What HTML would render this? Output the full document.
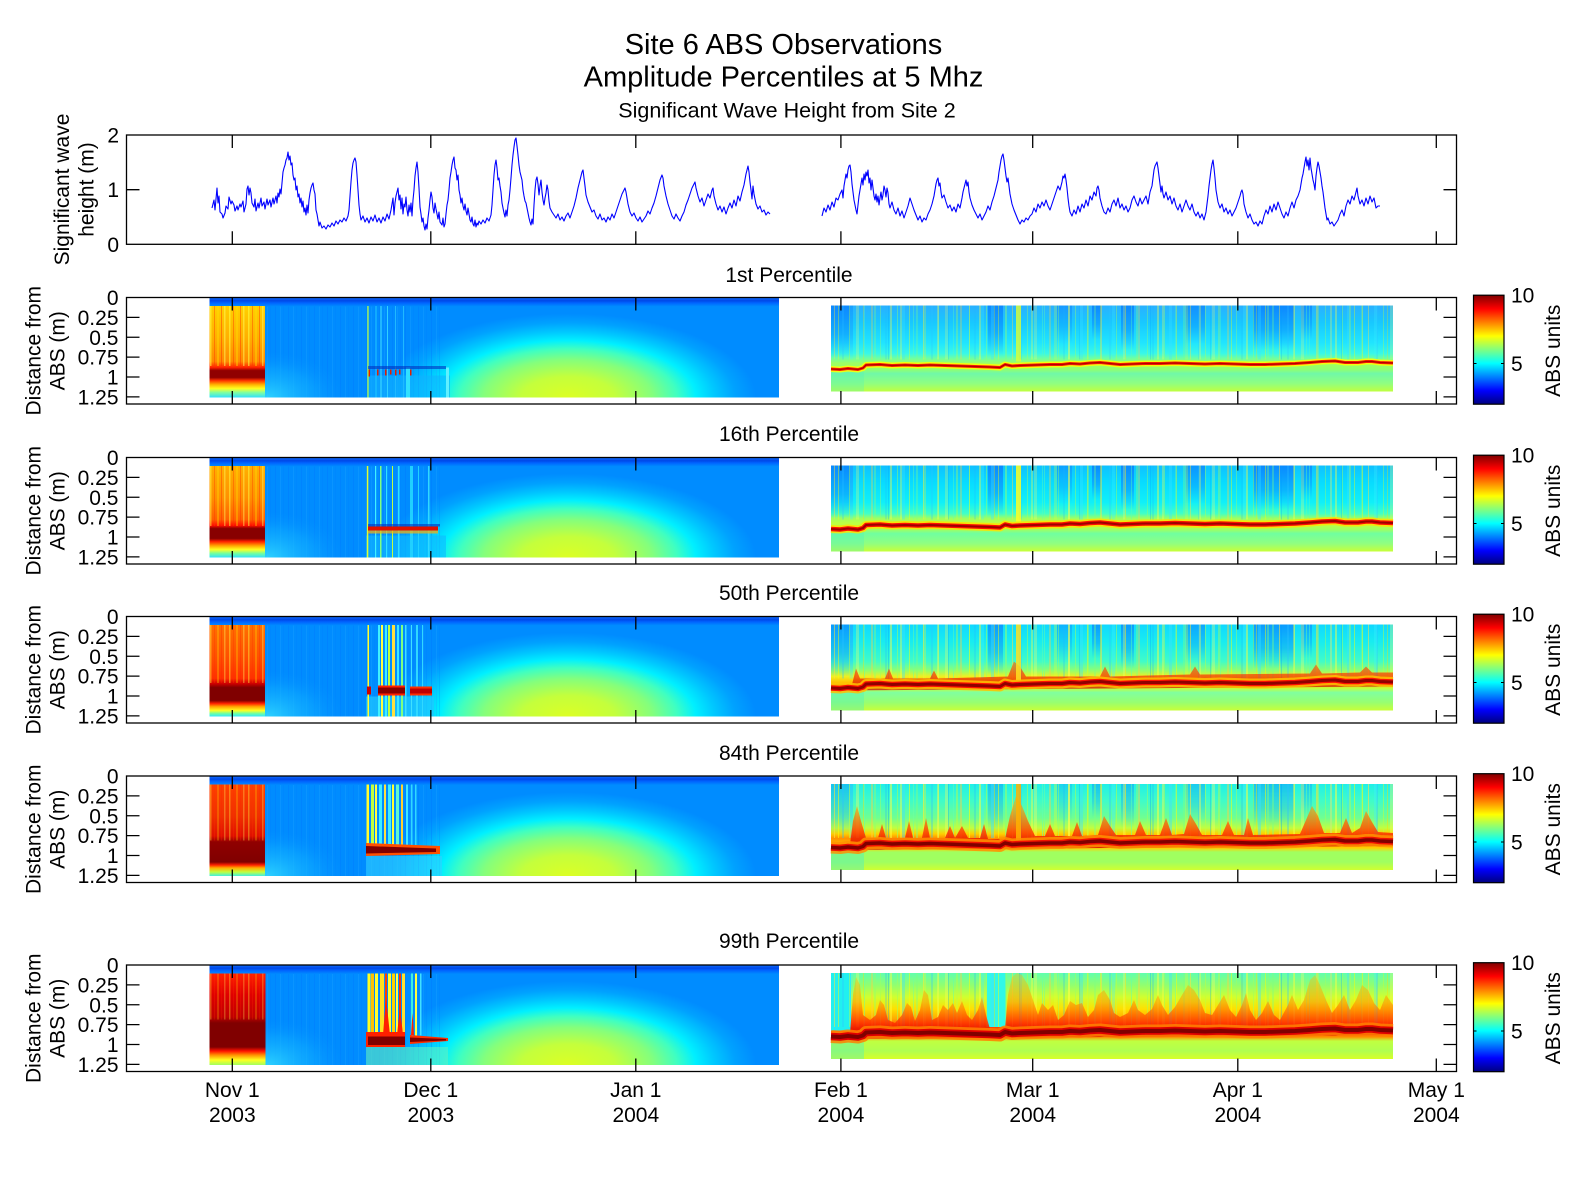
<!DOCTYPE html>
<html>
<head>
<meta charset="utf-8">
<style>
html,body{margin:0;padding:0;background:#fff;}
svg{display:block;}
text{font-family:"Liberation Sans",Arial,sans-serif;fill:#000;}
</style>
</head>
<body>
<svg width="1575" height="1200" viewBox="0 0 1575 1200" xmlns="http://www.w3.org/2000/svg">
<defs>
  <linearGradient id="jet" x1="0" y1="0" x2="0" y2="1">
    <stop offset="0" stop-color="#800000"/>
    <stop offset="0.125" stop-color="#ff0000"/>
    <stop offset="0.25" stop-color="#ff8000"/>
    <stop offset="0.375" stop-color="#ffff00"/>
    <stop offset="0.5" stop-color="#80ff80"/>
    <stop offset="0.625" stop-color="#00ffff"/>
    <stop offset="0.75" stop-color="#0080ff"/>
    <stop offset="0.875" stop-color="#0000ff"/>
    <stop offset="1" stop-color="#000080"/>
  </linearGradient>
  <radialGradient id="dome" gradientUnits="userSpaceOnUse" cx="0" cy="0" r="1" gradientTransform="translate(568,100) scale(188,84)">
    <stop offset="0" stop-color="#dcff24"/>
    <stop offset="0.25" stop-color="#c4ff3c"/>
    <stop offset="0.45" stop-color="#84ff7c"/>
    <stop offset="0.58" stop-color="#40ffc0"/>
    <stop offset="0.68" stop-color="#00f0ff"/>
    <stop offset="0.78" stop-color="#00c8ff"/>
    <stop offset="0.89" stop-color="#00a2ff"/>
    <stop offset="1" stop-color="#008cff"/>
  </radialGradient>
  <radialGradient id="lglow" gradientUnits="userSpaceOnUse" cx="0" cy="0" r="1" gradientTransform="translate(268,100) scale(80,48)">
    <stop offset="0" stop-color="#30d8ff" stop-opacity="0.9"/>
    <stop offset="0.6" stop-color="#10b0ff" stop-opacity="0.5"/>
    <stop offset="1" stop-color="#008cff" stop-opacity="0"/>
  </radialGradient>
  <linearGradient id="topS" gradientUnits="userSpaceOnUse" x1="0" y1="0" x2="0" y2="9">
    <stop offset="0" stop-color="#1070ff"/>
    <stop offset="0.35" stop-color="#0048e8"/>
    <stop offset="0.6" stop-color="#0064ff"/>
    <stop offset="1" stop-color="#008cff"/>
  </linearGradient>
  <linearGradient id="b1p1" gradientUnits="userSpaceOnUse" x1="0" y1="0" x2="0" y2="100">
    <stop offset="0.085" stop-color="#ffd000"/><stop offset="0.4" stop-color="#ffb000"/><stop offset="0.64" stop-color="#ff8a00"/>
    <stop offset="0.70" stop-color="#ff2000"/><stop offset="0.73" stop-color="#900000"/><stop offset="0.80" stop-color="#900000"/>
    <stop offset="0.83" stop-color="#ff3000"/><stop offset="0.87" stop-color="#ffb000"/><stop offset="0.91" stop-color="#ffff20"/>
    <stop offset="0.95" stop-color="#80ffa0"/><stop offset="1" stop-color="#30e0ff"/>
  </linearGradient>
  <linearGradient id="b1p2" gradientUnits="userSpaceOnUse" x1="0" y1="0" x2="0" y2="100">
    <stop offset="0.085" stop-color="#ffb000"/><stop offset="0.4" stop-color="#ff9000"/><stop offset="0.62" stop-color="#ff6000"/>
    <stop offset="0.68" stop-color="#ff1000"/><stop offset="0.71" stop-color="#880000"/><stop offset="0.81" stop-color="#880000"/>
    <stop offset="0.84" stop-color="#ff2000"/><stop offset="0.88" stop-color="#ffa000"/><stop offset="0.92" stop-color="#ffff20"/>
    <stop offset="0.96" stop-color="#70ffa0"/><stop offset="1" stop-color="#30e0ff"/>
  </linearGradient>
  <linearGradient id="b1p3" gradientUnits="userSpaceOnUse" x1="0" y1="0" x2="0" y2="100">
    <stop offset="0.085" stop-color="#ff7000"/><stop offset="0.4" stop-color="#ff5000"/><stop offset="0.62" stop-color="#ff3000"/>
    <stop offset="0.67" stop-color="#d00000"/><stop offset="0.71" stop-color="#800000"/><stop offset="0.84" stop-color="#800000"/>
    <stop offset="0.87" stop-color="#ff2000"/><stop offset="0.90" stop-color="#ffa000"/><stop offset="0.94" stop-color="#ffff20"/>
    <stop offset="0.97" stop-color="#70ffa0"/><stop offset="1" stop-color="#30e8ff"/>
  </linearGradient>
  <linearGradient id="b1p4" gradientUnits="userSpaceOnUse" x1="0" y1="0" x2="0" y2="100">
    <stop offset="0.085" stop-color="#ff4000"/><stop offset="0.4" stop-color="#f03000"/><stop offset="0.60" stop-color="#e01000"/>
    <stop offset="0.66" stop-color="#900000"/><stop offset="0.86" stop-color="#800000"/><stop offset="0.89" stop-color="#ff2000"/>
    <stop offset="0.92" stop-color="#ffb000"/><stop offset="0.96" stop-color="#c0ff40"/><stop offset="1" stop-color="#40f0e0"/>
  </linearGradient>
  <linearGradient id="b1p5" gradientUnits="userSpaceOnUse" x1="0" y1="0" x2="0" y2="100">
    <stop offset="0.085" stop-color="#ff2000"/><stop offset="0.3" stop-color="#e00000"/><stop offset="0.52" stop-color="#c00000"/>
    <stop offset="0.58" stop-color="#800000"/><stop offset="0.82" stop-color="#800000"/><stop offset="0.86" stop-color="#ff1000"/>
    <stop offset="0.90" stop-color="#ff9000"/><stop offset="0.95" stop-color="#ffff20"/><stop offset="1" stop-color="#a0ff60"/>
  </linearGradient>
  <linearGradient id="s2p1" gradientUnits="userSpaceOnUse" x1="0" y1="8" x2="0" y2="94">
    <stop offset="0" stop-color="#2ab0ff"/><stop offset="0.198" stop-color="#18c8ff"/><stop offset="0.43" stop-color="#20e4ff"/>
    <stop offset="0.558" stop-color="#38f8e8"/><stop offset="0.616" stop-color="#70ffa0"/><stop offset="0.674" stop-color="#a0ff60"/>
    <stop offset="0.744" stop-color="#90ff70"/><stop offset="0.791" stop-color="#70f8a8"/><stop offset="0.907" stop-color="#90ff80"/>
    <stop offset="1" stop-color="#c0ff40"/>
  </linearGradient>
  <linearGradient id="s2p2" gradientUnits="userSpaceOnUse" x1="0" y1="8" x2="0" y2="94">
    <stop offset="0" stop-color="#10c0ff"/><stop offset="0.198" stop-color="#08dcff"/><stop offset="0.43" stop-color="#10f0f8"/>
    <stop offset="0.558" stop-color="#40ffc8"/><stop offset="0.616" stop-color="#a0ff60"/><stop offset="0.674" stop-color="#c0ff40"/>
    <stop offset="0.744" stop-color="#a0ff60"/><stop offset="0.791" stop-color="#70ffa0"/><stop offset="0.907" stop-color="#90ff80"/>
    <stop offset="1" stop-color="#c8ff38"/>
  </linearGradient>
  <linearGradient id="s2p3" gradientUnits="userSpaceOnUse" x1="0" y1="8" x2="0" y2="94">
    <stop offset="0" stop-color="#10d8ff"/><stop offset="0.198" stop-color="#18ecf0"/><stop offset="0.43" stop-color="#40fcc8"/>
    <stop offset="0.535" stop-color="#90ff70"/><stop offset="0.605" stop-color="#f0f020"/><stop offset="0.674" stop-color="#ffc000"/>
    <stop offset="0.744" stop-color="#c0ff40"/><stop offset="0.791" stop-color="#80ffa0"/><stop offset="0.907" stop-color="#98ff70"/>
    <stop offset="1" stop-color="#c8ff38"/>
  </linearGradient>
  <linearGradient id="s2p4" gradientUnits="userSpaceOnUse" x1="0" y1="8" x2="0" y2="94">
    <stop offset="0" stop-color="#20f0e8"/><stop offset="0.198" stop-color="#40fcc8"/><stop offset="0.395" stop-color="#70ff90"/>
    <stop offset="0.512" stop-color="#c0ff40"/><stop offset="0.58" stop-color="#ffd000"/><stop offset="0.63" stop-color="#ff9000"/>
    <stop offset="0.744" stop-color="#ffd000"/><stop offset="0.791" stop-color="#a0ff60"/><stop offset="0.907" stop-color="#a0ff60"/>
    <stop offset="1" stop-color="#d0ff30"/>
  </linearGradient>
  <linearGradient id="s2p5" gradientUnits="userSpaceOnUse" x1="0" y1="8" x2="0" y2="94">
    <stop offset="0" stop-color="#60ffb0"/><stop offset="0.14" stop-color="#90ff70"/><stop offset="0.28" stop-color="#d0ff30"/>
    <stop offset="0.42" stop-color="#ffe000"/><stop offset="0.535" stop-color="#ffa800"/><stop offset="0.605" stop-color="#ff6000"/>
    <stop offset="0.651" stop-color="#ff3000"/><stop offset="0.744" stop-color="#ff9000"/><stop offset="0.791" stop-color="#c0ff40"/>
    <stop offset="0.907" stop-color="#b0ff50"/><stop offset="1" stop-color="#d8ff28"/>
  </linearGradient>
  <linearGradient id="blotG" x1="0" y1="0" x2="0" y2="1">
    <stop offset="0" stop-color="#0a84ff" stop-opacity="0.9"/>
    <stop offset="0.55" stop-color="#0a94ff" stop-opacity="0.6"/>
    <stop offset="1" stop-color="#10a0ff" stop-opacity="0"/>
  </linearGradient>
  <linearGradient id="plumeG" gradientUnits="userSpaceOnUse" x1="0" y1="8" x2="0" y2="72">
    <stop offset="0" stop-color="#ffd000" stop-opacity="0.5"/>
    <stop offset="0.4" stop-color="#ff9000" stop-opacity="0.75"/>
    <stop offset="0.75" stop-color="#ff3000" stop-opacity="0.95"/>
    <stop offset="1" stop-color="#d00000" stop-opacity="1"/>
  </linearGradient>
  <linearGradient id="plume5" gradientUnits="userSpaceOnUse" x1="0" y1="8" x2="0" y2="72">
    <stop offset="0" stop-color="#ffc000" stop-opacity="0.35"/>
    <stop offset="0.45" stop-color="#ff9000" stop-opacity="0.55"/>
    <stop offset="0.78" stop-color="#ff3000" stop-opacity="0.85"/>
    <stop offset="1" stop-color="#d00000" stop-opacity="1"/>
  </linearGradient>
  <pattern id="stA" patternUnits="userSpaceOnUse" width="89" height="200">
    <rect x="0" y="0" width="2" height="200" fill="#ffff40" fill-opacity="0.6"/>
    <rect x="7" y="0" width="1" height="200" fill="#a0ff60" fill-opacity="0.7"/>
    <rect x="12" y="0" width="3" height="200" fill="#40e0ff" fill-opacity="0.5"/>
    <rect x="19" y="0" width="1" height="200" fill="#ffff00" fill-opacity="0.6"/>
    <rect x="26" y="0" width="2" height="200" fill="#80ff80" fill-opacity="0.5"/>
    <rect x="33" y="0" width="1" height="200" fill="#ffe040" fill-opacity="0.7"/>
    <rect x="41" y="0" width="2" height="200" fill="#30c0ff" fill-opacity="0.4"/>
    <rect x="48" y="0" width="1" height="200" fill="#c0ff40" fill-opacity="0.6"/>
    <rect x="55" y="0" width="3" height="200" fill="#ffff60" fill-opacity="0.4"/>
    <rect x="63" y="0" width="1" height="200" fill="#60ffb0" fill-opacity="0.6"/>
    <rect x="70" y="0" width="2" height="200" fill="#ffd040" fill-opacity="0.5"/>
    <rect x="79" y="0" width="1" height="200" fill="#a0ff60" fill-opacity="0.6"/>
    <rect x="84" y="0" width="2" height="200" fill="#20b0ff" fill-opacity="0.3"/>
  </pattern>
  <pattern id="stB" patternUnits="userSpaceOnUse" x="17" width="131" height="200">
    <rect x="3" y="0" width="2" height="200" fill="#ffff50" fill-opacity="0.5"/>
    <rect x="14" y="0" width="1" height="200" fill="#00a0ff" fill-opacity="0.35"/>
    <rect x="22" y="0" width="2" height="200" fill="#c0ff40" fill-opacity="0.5"/>
    <rect x="35" y="0" width="1" height="200" fill="#ffff00" fill-opacity="0.6"/>
    <rect x="47" y="0" width="3" height="200" fill="#40f0ff" fill-opacity="0.4"/>
    <rect x="60" y="0" width="1" height="200" fill="#ffe000" fill-opacity="0.5"/>
    <rect x="71" y="0" width="2" height="200" fill="#90ff70" fill-opacity="0.5"/>
    <rect x="85" y="0" width="1" height="200" fill="#0098ff" fill-opacity="0.4"/>
    <rect x="97" y="0" width="2" height="200" fill="#ffff40" fill-opacity="0.5"/>
    <rect x="110" y="0" width="1" height="200" fill="#70ffa0" fill-opacity="0.6"/>
    <rect x="120" y="0" width="3" height="200" fill="#e0ff30" fill-opacity="0.4"/>
  </pattern>
  <pattern id="stY" patternUnits="userSpaceOnUse" width="19" height="200">
    <rect x="1" y="0" width="1.5" height="200" fill="#ffff40" fill-opacity="0.7"/>
    <rect x="5" y="0" width="1" height="200" fill="#ff3000" fill-opacity="0.5"/>
    <rect x="8" y="0" width="2" height="200" fill="#ffe000" fill-opacity="0.5"/>
    <rect x="12" y="0" width="1" height="200" fill="#ff2000" fill-opacity="0.5"/>
    <rect x="15" y="0" width="1.5" height="200" fill="#ffff60" fill-opacity="0.6"/>
  </pattern>
  <pattern id="stBl" patternUnits="userSpaceOnUse" width="13" height="200">
    <rect x="2" y="0" width="1" height="200" fill="#0070ff" fill-opacity="0.3"/>
    <rect x="7" y="0" width="1" height="200" fill="#20a8ff" fill-opacity="0.3"/>
    <rect x="10" y="0" width="1" height="200" fill="#0078ff" fill-opacity="0.2"/>
  </pattern>
  <path id="band" fill="none" stroke-linejoin="round" d="M831,71.5 L840,72 L848,71 L858,72 L863,70.5 L866,67.5 L880,67 L892,68 L905,67.5 L918,68 L930,67.5 L945,68 L960,68.5 L975,69 L990,69.5 L1000,70 L1005,67 L1012,68.5 L1020,68 L1035,67.5 L1050,67 L1062,67 L1070,66 L1080,66.5 L1090,65.5 L1100,65 L1110,66 L1120,67 L1132,66.5 L1145,66 L1160,66 L1175,65.5 L1190,66 L1205,66.5 L1220,66 L1235,66.5 L1250,67 L1265,67 L1280,66.5 L1295,66 L1310,65 L1322,64 L1335,63.5 L1345,65 L1358,65 L1366,64 L1372,64 L1380,65 L1393,65.5"/>
  <g id="blots">
    <rect x="831" y="8" width="22" height="52" fill="url(#blotG)"/>
    <rect x="988" y="8" width="15" height="50" fill="url(#blotG)"/>
    <rect x="1057" y="8" width="15" height="38" fill="url(#blotG)" opacity="0.6"/>
    <rect x="1092" y="8" width="9" height="34" fill="url(#blotG)"/>
    <rect x="1121" y="8" width="13" height="44" fill="url(#blotG)"/>
    <rect x="1186" y="8" width="19" height="38" fill="url(#blotG)" opacity="0.8"/>
    <rect x="1253" y="8" width="41" height="44" fill="url(#blotG)"/>
    <rect x="1301" y="8" width="11" height="34" fill="url(#blotG)" opacity="0.8"/>
  </g>
  <g id="seg1base">
    <rect x="209.5" y="0" width="569.5" height="100" fill="url(#dome)"/>
    <rect x="265" y="8" width="175" height="92" fill="url(#stBl)"/>
    <rect x="265" y="50" width="100" height="50" fill="url(#lglow)"/>
    <rect x="209.5" y="0" width="569.5" height="9" fill="url(#topS)"/>
  </g>
  <g id="seg2common">
    <rect x="831" y="8" width="562" height="54" fill="url(#stA)"/>
    <rect x="831" y="8" width="562" height="54" fill="url(#stB)"/>
    <rect x="831" y="74" width="33" height="20" fill="#50f0c0" opacity="0.55"/>
  </g>
  <g id="axp" stroke="#000" stroke-width="1.3" fill="none">
    <rect x="126.5" y="0" width="1330" height="106.5"/>
    <path d="M232.3,0v13M430.8,0v13M635.8,0v13M840.9,0v13M1032.7,0v13M1237.8,0v13M1436.3,0v13M232.3,106.5v-13M430.8,106.5v-13M635.8,106.5v-13M840.9,106.5v-13M1032.7,106.5v-13M1237.8,106.5v-13M1436.3,106.5v-13M126.5,19.9h13M126.5,39.75h13M126.5,59.6h13M126.5,79.5h13M126.5,99.4h13M1456.5,19.9h-13M1456.5,39.75h-13M1456.5,59.6h-13M1456.5,79.5h-13M1456.5,99.4h-13"/>
  </g>
  <g id="cbar">
    <rect x="1473.5" y="-2.3" width="30.5" height="109" fill="url(#jet)" stroke="#000" stroke-width="1.2"/>
    <path d="M1473.5,66h3M1504,66h-3" stroke="#000" stroke-width="1"/>
  </g>
</defs>

<rect x="0" y="0" width="1575" height="1200" fill="#fff"/>

<!-- Titles -->
<text x="783.5" y="54" font-size="29" text-anchor="middle">Site 6 ABS Observations</text>
<text x="783.5" y="86.5" font-size="29" text-anchor="middle">Amplitude Percentiles at 5 Mhz</text>
<text x="787" y="117.5" font-size="21.5" text-anchor="middle">Significant Wave Height from Site 2</text>

<!-- Top wave panel -->
<g fill="none" stroke="#0000ff" stroke-width="1.1" stroke-linejoin="round">
<polyline points="212,208 214,200 215,210 217,188 218,203 219,196 220,212 222,214 223,218 225,213 226,206 228,209 229,197 231,204 232,201 234,205 235,211 237,206 238,210 240,204 241,207 243,201 244,212 246,204 247,189 248,186 249,195 250,188 251,193 252,203 254,207 255,199 256,211 258,203 259,208 261,198 262,206 264,202 265,209 267,199 268,205 270,200 271,207 273,198 274,204 276,196 277,203 278,193 279,197 280,189 281,194 282,183 283,172 284,168 285,165 286,160 287,158 288,152 289,160 290,156 291,165 292,163 293,175 294,180 295,178 296,190 297,186 298,197 299,194 300,203 301,198 302,207 303,201 304,212 305,208 306,215 307,205 308,213 309,200 310,193 311,188 312,185 313,183 314,190 315,194 316,210 317,214 318,220 319,226 320,222 322,228 324,226 326,229 328,225 330,227 332,223 334,226 336,221 338,224 340,220 342,222 344,218 346,221 348,216 349,210 350,196 351,182 352,170 353,163 354,160 355,158 356,162 357,175 358,190 359,205 360,214 361,220 363,216 365,222 367,218 369,223 371,217 373,221 375,215 377,222 379,218 381,223 383,217 385,221 387,214 389,219 391,210 392,204 393,198 394,215 395,203 396,196 397,192 398,188 399,200 400,195 401,209 402,198 403,214 404,204 405,207 406,197 407,210 408,216 409,205 410,212 411,203 412,216 413,200 414,190 415,176 416,168 417,162 418,172 419,188 420,207 421,214 422,222 423,218 424,226 425,230 426,224 427,229 428,218 429,210 430,200 431,192 432,197 433,208 434,213 435,203 436,209 437,214 438,219 439,212 440,222 442,225 443,218 444,227 445,224 446,214 447,205 448,200 449,190 450,178 451,172 452,165 453,160 454,157 455,168 456,170 457,180 458,175 459,190 460,195 461,203 462,198 463,206 464,210 465,204 466,211 467,215 468,208 469,214 470,220 471,222 472,217 473,224 474,226 475,220 476,227 477,223 478,225 479,221 481,224 483,220 485,223 487,218 489,221 491,215 492,205 493,190 494,175 495,165 496,160 497,168 498,180 499,178 500,186 501,192 502,203 503,208 504,213 505,217 506,210 507,216 508,205 509,200 510,190 511,178 512,165 513,155 514,147 515,140 516,138 517,146 518,155 519,165 520,172 521,176 522,180 523,190 524,196 525,201 526,203 527,208 528,213 529,218 530,222 531,225 532,219 533,224 534,205 535,190 536,180 537,177 538,184 539,195 540,186 541,180 542,192 543,200 544,205 545,198 546,193 547,185 548,190 549,201 550,208 552,212 554,215 556,218 558,214 560,220 562,217 564,221 566,216 568,213 570,218 572,212 574,206 576,198 578,188 580,180 582,172 583,170 584,178 585,186 586,195 588,202 590,207 592,212 594,210 596,216 598,219 600,214 602,220 604,218 606,222 608,217 610,220 612,214 614,218 616,212 618,206 620,200 622,194 624,190 625,188 626,192 628,204 630,212 632,216 634,213 636,218 638,221 640,217 642,222 644,219 646,216 648,211 650,214 652,208 654,203 656,196 658,188 660,180 662,175 663,178 664,186 666,196 668,204 670,210 672,216 674,219 676,214 678,218 680,221 682,216 684,212 686,205 688,200 690,194 692,188 694,184 695,182 696,188 698,196 700,202 702,198 704,206 706,200 708,194 710,198 712,190 713,188 714,196 716,204 718,210 720,206 722,212 724,207 726,214 728,208 730,203 732,208 734,200 736,206 738,196 740,201 742,192 744,185 746,174 747,170 748,166 749,172 750,182 751,190 752,199 753,186 754,194 756,204 758,209 760,206 762,212 764,210 766,215 768,212 770,214"/>
<polyline points="822,216 824,208 826,212 828,205 830,210 832,202 834,207 836,198 838,200 840,194 842,190 843,198 844,186 845,180 846,174 847,178 848,170 849,166 850,165 851,172 852,184 853,192 854,200 855,205 856,210 857,214 858,205 859,196 860,190 861,184 862,178 863,185 864,174 865,180 866,172 867,176 868,170 869,183 870,178 871,190 872,180 873,188 874,196 875,200 876,194 877,202 878,196 879,205 880,198 881,192 882,200 883,195 884,186 885,190 886,197 887,188 888,193 889,204 890,208 892,202 894,210 896,214 898,208 900,216 902,211 904,218 906,212 908,206 910,198 912,204 914,210 916,215 918,220 920,216 922,222 924,218 926,220 928,214 930,210 932,204 934,196 935,190 936,184 937,180 938,178 939,186 940,183 941,192 942,198 944,195 946,202 948,208 950,205 952,211 954,207 956,212 958,204 960,208 962,198 963,192 964,188 965,184 966,180 967,186 968,182 969,192 970,198 972,205 974,210 976,214 978,218 980,214 982,220 984,216 986,212 988,206 990,210 992,202 994,196 996,188 998,180 999,172 1000,166 1001,160 1002,156 1003,154 1004,160 1005,168 1006,176 1007,182 1008,178 1009,186 1010,194 1012,204 1014,210 1016,215 1018,220 1020,224 1022,220 1024,222 1026,218 1028,220 1030,216 1032,214 1034,208 1036,212 1038,204 1040,208 1042,202 1044,206 1046,200 1048,206 1050,210 1052,204 1054,198 1056,192 1058,186 1060,190 1062,182 1063,176 1064,178 1065,174 1066,180 1067,188 1068,198 1069,206 1070,212 1072,216 1074,210 1076,214 1078,206 1080,212 1082,204 1084,208 1086,200 1088,206 1090,196 1092,200 1094,192 1096,196 1097,188 1098,186 1099,190 1100,198 1102,206 1104,212 1106,214 1108,208 1110,212 1112,204 1114,200 1116,206 1118,198 1120,208 1122,204 1124,210 1126,206 1128,212 1130,208 1132,200 1134,196 1136,202 1138,206 1140,198 1142,204 1144,200 1146,196 1148,204 1150,192 1152,186 1153,178 1154,170 1155,166 1156,164 1157,162 1158,168 1159,176 1160,184 1161,192 1162,186 1163,194 1164,198 1166,192 1168,200 1170,196 1172,204 1174,198 1176,206 1178,210 1180,204 1182,212 1184,206 1186,200 1188,206 1190,210 1192,204 1194,212 1196,216 1198,212 1200,218 1202,214 1204,220 1206,212 1207,204 1208,196 1209,186 1210,178 1211,170 1212,164 1213,160 1214,168 1215,178 1216,190 1217,196 1218,202 1220,208 1222,204 1224,212 1226,208 1228,214 1230,210 1232,216 1234,212 1236,208 1238,202 1240,196 1241,192 1242,190 1243,194 1244,204 1246,212 1248,218 1250,214 1252,220 1254,224 1256,222 1258,226 1260,221 1262,224 1264,216 1266,210 1268,214 1270,206 1272,212 1274,204 1276,210 1278,202 1280,208 1282,214 1284,218 1286,212 1288,216 1290,208 1292,202 1294,208 1296,200 1298,196 1300,190 1301,184 1302,178 1303,174 1304,168 1305,162 1306,157 1307,166 1308,160 1309,170 1310,158 1311,168 1312,174 1313,180 1314,184 1315,190 1316,176 1317,168 1318,162 1319,166 1320,172 1321,178 1322,186 1323,192 1324,200 1325,208 1326,214 1327,220 1328,218 1330,224 1332,222 1334,226 1336,223 1338,220 1340,214 1342,210 1344,216 1346,206 1348,200 1350,204 1352,196 1354,200 1356,192 1357,188 1358,196 1360,204 1362,200 1364,206 1366,198 1368,204 1370,196 1372,202 1374,198 1376,208 1378,206 1380,206"/>
</g>
<g stroke="#000" stroke-width="1.3" fill="none">
  <rect x="126.5" y="135" width="1330" height="109.3"/>
  <path d="M232.3,135v13M430.8,135v13M635.8,135v13M840.9,135v13M1032.7,135v13M1237.8,135v13M1436.3,135v13M232.3,244.3v-13M430.8,244.3v-13M635.8,244.3v-13M840.9,244.3v-13M1032.7,244.3v-13M1237.8,244.3v-13M1436.3,244.3v-13M126.5,189.7h13M1456.5,189.7h-13"/>
</g>
<g font-size="21" text-anchor="end">
  <text x="119" y="142.5">2</text>
  <text x="119" y="197.2">1</text>
  <text x="119" y="251.8">0</text>
</g>
<text transform="translate(69,189.5) rotate(-90)" font-size="21" text-anchor="middle">Significant wave</text>
<text transform="translate(93.5,189.5) rotate(-90)" font-size="21" text-anchor="middle">height (m)</text>

<!-- ===== Panel 1 : 1st percentile ===== -->
<g transform="translate(0,297.5)">
  <use href="#seg1base"/>
  <rect x="209.5" y="8.5" width="55.5" height="91.5" fill="url(#b1p1)"/>
  <rect x="209.5" y="8.5" width="55.5" height="60" fill="url(#stY)" opacity="0.8"/>
  <rect x="368" y="78" width="82" height="22" fill="#10b0ff" opacity="0.6"/>
  <rect x="367.3" y="8.5" width="1.3" height="91.5" fill="#b8ff48"/>
  <rect x="375.5" y="8.5" width="1" height="91.5" fill="#20c8ff"/>
  <rect x="380.5" y="8.5" width="1" height="91.5" fill="#40e0ff"/>
  <rect x="387" y="8.5" width="1" height="91.5" fill="#30d0ff"/>
  <rect x="395" y="8.5" width="1" height="91.5" fill="#20b8ff"/>
  <rect x="403" y="8.5" width="1" height="91.5" fill="#20b8ff"/>
  <rect x="406" y="70" width="4" height="30" fill="#30e0ff"/>
  <rect x="446" y="70" width="3" height="30" fill="#60f0ff"/>
  <rect x="368" y="68.5" width="78" height="3" fill="#0030c0" opacity="0.6"/>
  <g fill="#e02000">
    <rect x="368.5" y="72" width="1.5" height="7"/><rect x="377" y="72" width="1.5" height="6"/><rect x="385" y="72" width="1.5" height="6"/>
    <rect x="390" y="72" width="1.5" height="5"/><rect x="395" y="72" width="1.5" height="6"/><rect x="399" y="72" width="1.5" height="5"/>
    <rect x="410" y="72" width="1.5" height="6"/>
  </g>
  <rect x="831" y="8" width="562" height="86" fill="url(#s2p1)"/>
  <use href="#blots"/>
  <use href="#seg2common" opacity="0.55"/>
  <rect x="1016" y="8" width="5" height="56" fill="#e0ff30" opacity="0.8"/>
  <use href="#band" stroke="#ffff00" stroke-width="6" stroke-opacity="0.85"/>
  <use href="#band" stroke="#ff2000" stroke-width="3"/>
  <use href="#band" stroke="#b00000" stroke-width="1.2"/>
  <use href="#axp"/>
  <use href="#cbar"/>
</g>
<text x="789" y="282" font-size="21" text-anchor="middle">1st Percentile</text>
<g font-size="21" text-anchor="end">
  <text x="118.5" y="305">0</text><text x="118.5" y="324.9">0.25</text><text x="118.5" y="344.75">0.5</text>
  <text x="118.5" y="364.6">0.75</text><text x="118.5" y="384.5">1</text><text x="118.5" y="404.4">1.25</text>
</g>
<text transform="translate(40.5,350.75) rotate(-90)" font-size="21" text-anchor="middle">Distance from</text>
<text transform="translate(64.5,350.75) rotate(-90)" font-size="21" text-anchor="middle">ABS (m)</text>
<text x="1511" y="302.7" font-size="21">10</text>
<text x="1511" y="371" font-size="21">5</text>
<text transform="translate(1560,350.75) rotate(-90)" font-size="21" text-anchor="middle">ABS units</text>

<!-- ===== Panel 2 : 16th percentile ===== -->
<g transform="translate(0,457.5)">
  <use href="#seg1base"/>
  <rect x="209.5" y="8.5" width="55.5" height="91.5" fill="url(#b1p2)"/>
  <rect x="209.5" y="8.5" width="55.5" height="60" fill="url(#stY)" opacity="0.7"/>
  <rect x="366" y="78" width="80" height="22" fill="#10b8ff" opacity="0.6"/>
  <rect x="366.8" y="8.5" width="1.5" height="91.5" fill="#e0ff30"/>
  <rect x="375" y="8.5" width="1.2" height="91.5" fill="#40f0ff"/>
  <rect x="380" y="8.5" width="1.5" height="91.5" fill="#80ff80"/>
  <rect x="386" y="8.5" width="1.2" height="91.5" fill="#30e0ff"/>
  <rect x="392" y="8.5" width="1" height="91.5" fill="#c0ff40"/>
  <rect x="398" y="8.5" width="1.5" height="91.5" fill="#30e0ff"/>
  <rect x="410" y="8.5" width="3" height="91.5" fill="#20d0ff"/>
  <rect x="418" y="8.5" width="1" height="91.5" fill="#20d0ff"/>
  <rect x="428" y="8.5" width="1.5" height="91.5" fill="#30d8ff"/>
  <rect x="368" y="66.5" width="72" height="2.5" fill="#0030c0" opacity="0.6"/>
  <rect x="368" y="73" width="70" height="3" fill="#ffb000" opacity="0.7"/>
  <rect x="368" y="69" width="70" height="4" fill="#e01000"/>
  <rect x="831" y="8" width="562" height="86" fill="url(#s2p2)"/>
  <use href="#blots"/>
  <use href="#seg2common" opacity="0.65"/>
  <rect x="1016" y="8" width="5" height="56" fill="#ffff20" opacity="0.85"/>
  <use href="#band" stroke="#ffe000" stroke-width="8" stroke-opacity="0.85"/>
  <use href="#band" stroke="#ff1000" stroke-width="4.5"/>
  <use href="#band" stroke="#a00000" stroke-width="2"/>
  <use href="#axp"/>
  <use href="#cbar"/>
</g>
<text x="789" y="441" font-size="21" text-anchor="middle">16th Percentile</text>
<g font-size="21" text-anchor="end">
  <text x="118.5" y="465">0</text><text x="118.5" y="484.9">0.25</text><text x="118.5" y="504.75">0.5</text>
  <text x="118.5" y="524.6">0.75</text><text x="118.5" y="544.5">1</text><text x="118.5" y="564.4">1.25</text>
</g>
<text transform="translate(40.5,510.75) rotate(-90)" font-size="21" text-anchor="middle">Distance from</text>
<text transform="translate(64.5,510.75) rotate(-90)" font-size="21" text-anchor="middle">ABS (m)</text>
<text x="1511" y="462.7" font-size="21">10</text>
<text x="1511" y="531" font-size="21">5</text>
<text transform="translate(1560,510.75) rotate(-90)" font-size="21" text-anchor="middle">ABS units</text>

<!-- ===== Panel 3 : 50th percentile ===== -->
<g transform="translate(0,616.5)">
  <use href="#seg1base"/>
  <rect x="209.5" y="8.5" width="55.5" height="91.5" fill="url(#b1p3)"/>
  <rect x="209.5" y="8.5" width="55.5" height="58" fill="url(#stY)" opacity="0.6"/>
  <rect x="366" y="80" width="68" height="20" fill="#20c8ff" opacity="0.7"/>
  <rect x="367.5" y="8.5" width="1.5" height="91.5" fill="#ffff30"/>
  <rect x="378" y="8.5" width="2" height="91.5" fill="#40f0ff"/>
  <rect x="381" y="8.5" width="2" height="91.5" fill="#ffff40"/>
  <rect x="385" y="8.5" width="2" height="91.5" fill="#40f0ff"/>
  <rect x="388" y="8.5" width="2" height="91.5" fill="#c0ff40"/>
  <rect x="392" y="8.5" width="3" height="91.5" fill="#ffe040"/>
  <rect x="397" y="8.5" width="2" height="91.5" fill="#40e8ff"/>
  <rect x="401" y="8.5" width="2" height="91.5" fill="#80ff80"/>
  <rect x="405" y="8.5" width="1.5" height="91.5" fill="#40e0ff"/>
  <rect x="411" y="8.5" width="1" height="91.5" fill="#40e0ff"/>
  <rect x="416" y="8.5" width="2" height="91.5" fill="#30d8ff"/>
  <rect x="422" y="8.5" width="1" height="91.5" fill="#30d8ff"/>
  <rect x="378" y="69" width="27" height="10" fill="#ff2000"/>
  <rect x="378" y="71" width="27" height="6" fill="#880000"/>
  <rect x="410" y="70" width="22" height="9" fill="#ff3000"/>
  <rect x="410" y="72" width="22" height="5" fill="#c00000"/>
  <rect x="367" y="70" width="4" height="8" fill="#d00000"/>
  <rect x="831" y="8" width="562" height="86" fill="url(#s2p3)"/>
  <use href="#blots" opacity="0.8"/>
  <use href="#seg2common" opacity="0.75"/>
  <path fill="url(#plumeG)" d="M831,68 L852,68 L856,52 L860,62 L885,62 L889,52 L893,62 L930,62 L934,54 L938,62 L1008,60 L1014,45 L1020,50 L1026,60 L1100,60 L1105,50 L1110,60 L1190,58 L1195,50 L1200,58 L1310,57 L1316,48 L1322,57 L1360,56 L1366,50 L1372,56 L1393,56 L1393,70 L831,74 Z" opacity="0.7"/>
  <rect x="1016" y="8" width="5" height="56" fill="#ffe020" opacity="0.85"/>
  <use href="#band" stroke="#ffc000" stroke-width="10" stroke-opacity="0.85"/>
  <use href="#band" stroke="#ff1000" stroke-width="5.5"/>
  <use href="#band" stroke="#900000" stroke-width="3"/>
  <use href="#axp"/>
  <use href="#cbar"/>
</g>
<text x="789" y="600" font-size="21" text-anchor="middle">50th Percentile</text>
<g font-size="21" text-anchor="end">
  <text x="118.5" y="624">0</text><text x="118.5" y="643.9">0.25</text><text x="118.5" y="663.75">0.5</text>
  <text x="118.5" y="683.6">0.75</text><text x="118.5" y="703.5">1</text><text x="118.5" y="723.4">1.25</text>
</g>
<text transform="translate(40.5,669.75) rotate(-90)" font-size="21" text-anchor="middle">Distance from</text>
<text transform="translate(64.5,669.75) rotate(-90)" font-size="21" text-anchor="middle">ABS (m)</text>
<text x="1511" y="621.7" font-size="21">10</text>
<text x="1511" y="690" font-size="21">5</text>
<text transform="translate(1560,669.75) rotate(-90)" font-size="21" text-anchor="middle">ABS units</text>

<!-- ===== Panel 4 : 84th percentile ===== -->
<g transform="translate(0,776)">
  <use href="#seg1base"/>
  <rect x="209.5" y="8.5" width="55.5" height="91.5" fill="url(#b1p4)"/>
  <rect x="209.5" y="8.5" width="55.5" height="56" fill="url(#stY)" opacity="0.5"/>
  <rect x="366" y="80" width="76" height="20" fill="#30d0ff" opacity="0.6"/>
  <rect x="366.5" y="8.5" width="2.5" height="62" fill="#ffff30"/>
  <rect x="371" y="8.5" width="3" height="62" fill="#c0ff40"/>
  <rect x="375" y="8.5" width="2" height="62" fill="#ffff40"/>
  <rect x="379" y="8.5" width="3" height="62" fill="#40f0ff"/>
  <rect x="384" y="8.5" width="2" height="62" fill="#ffe040"/>
  <rect x="388" y="8.5" width="3" height="62" fill="#40f0ff"/>
  <rect x="392" y="8.5" width="2" height="62" fill="#ffff30"/>
  <rect x="396" y="8.5" width="3" height="62" fill="#60f8d0"/>
  <rect x="401" y="8.5" width="2" height="62" fill="#ffd030"/>
  <rect x="406" y="8.5" width="2" height="62" fill="#40e8ff"/>
  <rect x="411" y="8.5" width="1.5" height="62" fill="#30d8ff"/>
  <rect x="415" y="8.5" width="1.5" height="62" fill="#30d8ff"/>
  <path d="M366,67 L440,70 L440,78 L366,80 Z" fill="#ff5000"/>
  <path d="M366,70 L436,72.5 L436,76 L366,77.5 Z" fill="#800000"/>
  <rect x="831" y="8" width="562" height="86" fill="url(#s2p4)"/>
  <use href="#blots" opacity="0.45"/>
  <use href="#seg2common" opacity="0.85"/>
  <path fill="url(#plumeG)" opacity="0.85" d="M831,68 L850,68 L853,45 L857,30 L861,45 L866,62 L878,62 L882,48 L886,62 L905,62 L909,45 L913,62 L922,62 L926,42 L930,62 L945,62 L950,50 L955,62 L962,50 L968,62 L980,62 L984,48 L988,63 L1005,63 L1010,40 L1016,20 L1022,30 L1028,45 L1035,60 L1045,60 L1050,48 L1055,60 L1072,60 L1077,46 L1082,60 L1098,59 L1104,40 L1110,50 L1116,59 L1135,59 L1140,45 L1146,59 L1160,59 L1166,42 L1172,59 L1184,58 L1190,38 L1196,48 L1202,59 L1222,59 L1228,45 L1234,59 L1244,59 L1248,42 L1253,59 L1300,58 L1306,44 L1312,30 L1318,40 L1324,57 L1340,57 L1346,42 L1352,57 L1360,52 L1366,35 L1372,46 L1378,56 L1393,57 L1393,70 L831,74 Z"/>
  <rect x="1016" y="8" width="5" height="56" fill="#ffb000" opacity="0.85"/>
  <use href="#band" stroke="#ff9000" stroke-width="12" stroke-opacity="0.85"/>
  <use href="#band" stroke="#f01000" stroke-width="6.5"/>
  <use href="#band" stroke="#800000" stroke-width="3.5"/>
  <use href="#axp"/>
  <use href="#cbar"/>
</g>
<text x="789" y="760" font-size="21" text-anchor="middle">84th Percentile</text>
<g font-size="21" text-anchor="end">
  <text x="118.5" y="783.5">0</text><text x="118.5" y="803.4">0.25</text><text x="118.5" y="823.25">0.5</text>
  <text x="118.5" y="843.1">0.75</text><text x="118.5" y="863">1</text><text x="118.5" y="882.9">1.25</text>
</g>
<text transform="translate(40.5,829.25) rotate(-90)" font-size="21" text-anchor="middle">Distance from</text>
<text transform="translate(64.5,829.25) rotate(-90)" font-size="21" text-anchor="middle">ABS (m)</text>
<text x="1511" y="781.2" font-size="21">10</text>
<text x="1511" y="849.5" font-size="21">5</text>
<text transform="translate(1560,829.25) rotate(-90)" font-size="21" text-anchor="middle">ABS units</text>

<!-- ===== Panel 5 : 99th percentile ===== -->
<g transform="translate(0,965)">
  <use href="#seg1base"/>
  <rect x="209.5" y="8.5" width="56" height="91.5" fill="url(#b1p5)"/>
  <rect x="209.5" y="8.5" width="56" height="46" fill="url(#stY)" opacity="0.45"/>
  <rect x="366" y="82" width="82" height="18" fill="#60f0c0" opacity="0.6"/>
  <rect x="367.5" y="8.5" width="3" height="62" fill="#ffff20"/>
  <rect x="371" y="8.5" width="3" height="62" fill="#ffc000"/>
  <rect x="375" y="8.5" width="3" height="62" fill="#ffff30"/>
  <rect x="380" y="8.5" width="4" height="62" fill="#ffe020"/>
  <rect x="385" y="8.5" width="2" height="62" fill="#ff4000"/>
  <rect x="388" y="8.5" width="3" height="62" fill="#ffff30"/>
  <rect x="392" y="8.5" width="3" height="62" fill="#ffd000"/>
  <rect x="396" y="8.5" width="2" height="62" fill="#ffff40"/>
  <rect x="399" y="8.5" width="2" height="62" fill="#ff3000"/>
  <rect x="402" y="8.5" width="3" height="62" fill="#ffe030"/>
  <rect x="411" y="8.5" width="2" height="62" fill="#40f0e0"/>
  <rect x="415" y="8.5" width="2" height="62" fill="#ffff40"/>
  <rect x="420" y="8.5" width="1.5" height="62" fill="#40e0ff"/>
  <path d="M383,70 L386,32 L390,70 Z M397,70 L400,42 L403,70 Z M411,70 L412.5,48 L414,70 Z" fill="#ff2000"/>
  <path d="M366,67 L405,67 L405,82 L366,82 Z" fill="#ff2000"/>
  <path d="M368,71.5 L405,71.5 L405,80 L368,80 Z" fill="#800000"/>
  <path d="M410,70 L448,73 L448,76 L410,79 Z" fill="#ff3000"/>
  <path d="M410,72.5 L446,74 L446,75.5 L410,77 Z" fill="#800000"/>
  <rect x="831" y="8" width="562" height="86" fill="url(#s2p5)"/>
  <rect x="831" y="8" width="20" height="58" fill="#20f0f0"/>
  <rect x="987" y="8" width="19" height="54" fill="#30f8e8"/>
  <use href="#seg2common" opacity="0.75"/>
  <path fill="url(#plume5)" d="M831,68 L850,68 L853,30 L856,12 L860,20 L863,50 L870,55 L876,50 L880,35 L884,40 L888,55 L895,58 L902,50 L907,38 L911,42 L915,56 L920,45 L924,25 L928,30 L932,55 L938,52 L943,40 L948,45 L953,38 L957,48 L962,36 L967,50 L972,55 L978,45 L982,32 L986,50 L990,64 L1005,64 L1008,30 L1012,12 L1017,8 L1022,10 L1028,20 L1033,35 L1038,50 L1042,38 L1048,45 L1053,40 L1058,55 L1064,50 L1070,36 L1076,40 L1082,38 L1088,52 L1094,45 L1098,30 L1104,25 L1110,35 L1114,48 L1120,52 L1128,48 L1134,35 L1138,45 L1145,50 L1152,44 L1158,30 L1162,40 L1168,50 L1175,42 L1182,30 L1188,20 L1194,25 L1200,35 L1205,48 L1212,50 L1218,40 L1224,30 L1230,45 L1236,52 L1242,40 L1246,28 L1250,45 L1256,55 L1262,48 L1268,36 L1274,50 L1280,55 L1288,40 L1292,30 L1298,45 L1304,35 L1310,15 L1315,10 L1320,20 L1326,35 L1332,48 L1338,40 L1344,30 L1350,45 L1356,35 L1362,20 L1368,25 L1374,38 L1380,45 L1386,30 L1393,40 L1393,70 L831,74 Z"/>
  <use href="#band" stroke="#ff8000" stroke-width="13" stroke-opacity="0.85"/>
  <use href="#band" stroke="#e00000" stroke-width="7.5"/>
  <use href="#band" stroke="#800000" stroke-width="4"/>
  <use href="#axp"/>
  <use href="#cbar"/>
</g>
<text x="789" y="948" font-size="21" text-anchor="middle">99th Percentile</text>
<g font-size="21" text-anchor="end">
  <text x="118.5" y="972.5">0</text><text x="118.5" y="992.4">0.25</text><text x="118.5" y="1012.25">0.5</text>
  <text x="118.5" y="1032.1">0.75</text><text x="118.5" y="1052">1</text><text x="118.5" y="1071.9">1.25</text>
</g>
<text transform="translate(40.5,1018.25) rotate(-90)" font-size="21" text-anchor="middle">Distance from</text>
<text transform="translate(64.5,1018.25) rotate(-90)" font-size="21" text-anchor="middle">ABS (m)</text>
<text x="1511" y="970.2" font-size="21">10</text>
<text x="1511" y="1038.5" font-size="21">5</text>
<text transform="translate(1560,1018.25) rotate(-90)" font-size="21" text-anchor="middle">ABS units</text>

<!-- X tick labels -->
<g font-size="21" text-anchor="middle">
  <text x="232.3" y="1097">Nov 1</text><text x="232.3" y="1122">2003</text>
  <text x="430.8" y="1097">Dec 1</text><text x="430.8" y="1122">2003</text>
  <text x="635.8" y="1097">Jan 1</text><text x="635.8" y="1122">2004</text>
  <text x="840.9" y="1097">Feb 1</text><text x="840.9" y="1122">2004</text>
  <text x="1032.7" y="1097">Mar 1</text><text x="1032.7" y="1122">2004</text>
  <text x="1237.8" y="1097">Apr 1</text><text x="1237.8" y="1122">2004</text>
  <text x="1436.3" y="1097">May 1</text><text x="1436.3" y="1122">2004</text>
</g>
</svg>
</body>
</html>
